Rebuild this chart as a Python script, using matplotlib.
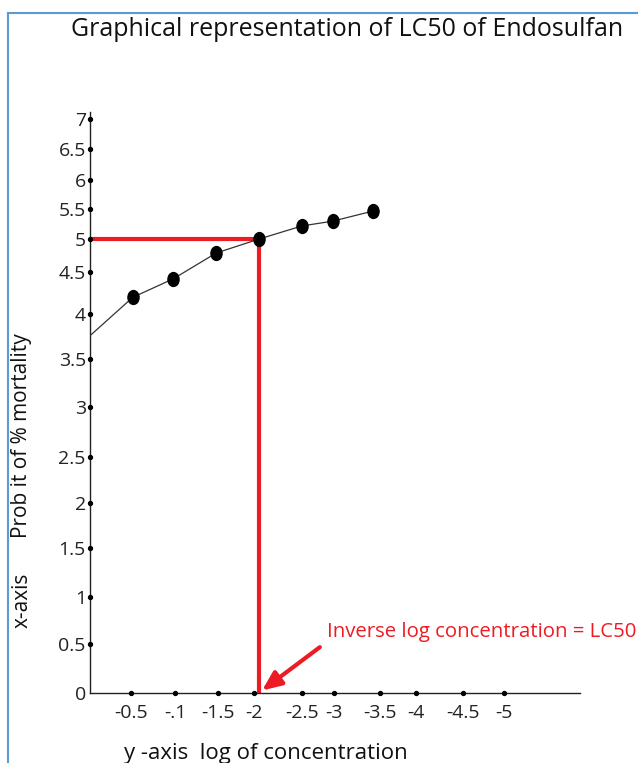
import numpy as np
import matplotlib
matplotlib.use('Agg')
import matplotlib.pyplot as plt
from matplotlib.path import Path
from matplotlib.transforms import Affine2D
from matplotlib.lines import Line2D

plt.rcParams['font.family'] = ['Open Sans', 'DejaVu Sans']

# values
log_conc = [-0.52, -0.98, -1.48, -2.05, -2.5, -2.98, -3.43]
probit = [4.2, 4.42, 4.79, 5.0, 5.22, 5.3, 5.47]
intercept = 3.76          # where the drawn line meets the y axis
lc50_x = -2.05
lc50_y = 5.0

y_ticks = [0, 0.5, 1, 1.5, 2, 2.5, 3, 3.5, 4, 4.5, 5, 5.5, 6, 6.5, 7]
y_labels = ['0', '0.5', '1', '1.5', '2', '2.5', '3', '3.5', '4', '4.5',
            '5', '5.5', '6', '6.5', '7']
x_ticks = [-0.5, -1, -1.5, -2, -2.5, -3, -3.5, -4, -4.5, -5]
x_labels = ['-0.5', '-.1', '-1.5', '-2', '-2.5', '-3', '-3.5', '-4', '-4.5', '-5']

# the axes in the original are hand drawn, ticks are not evenly spaced
y_break_vals = [0, 0.5, 1, 1.5, 2, 2.5, 3, 3.5, 4, 4.5, 5, 5.5, 6, 6.5, 7, 7.5]
y_break_pos = [0, 49, 96, 145, 190, 236, 286, 334, 379, 421, 454, 484, 513, 544, 574, 604]
x_break_vals = [0, 0.5, 1, 1.5, 2, 2.5, 3, 3.5, 4, 4.5, 5, 6]
x_break_pos = [0, 41, 85, 128, 164, 212, 244, 290, 326, 373, 414, 496]


def y_fwd(v):
    return np.interp(np.asarray(v, dtype=float), y_break_vals, y_break_pos)


def y_inv(p):
    return np.interp(np.asarray(p, dtype=float), y_break_pos, y_break_vals)


# increasing mapping for negative values, axis is then inverted with xlim
def x_fwd(v):
    return -np.interp(-np.asarray(v, dtype=float), x_break_vals, x_break_pos)


def x_inv(p):
    return -np.interp(-np.asarray(p, dtype=float), x_break_pos, x_break_vals)


RED = '#ed1c24'
W, H = 638, 763

fig = plt.figure(figsize=(W / 100, H / 100), dpi=100)
ax = fig.add_axes([90 / W, 70 / H, 490 / W, 581 / H])
ax.set_xscale('function', functions=(x_fwd, x_inv))
ax.set_yscale('function', functions=(y_fwd, y_inv))
ax.set_xlim(0, -5.93)
ax.set_ylim(0, 7.12)

for s in ['top', 'right']:
    ax.spines[s].set_visible(False)
for s in ['left', 'bottom']:
    ax.spines[s].set_linewidth(1.0)
    ax.spines[s].set_color('#222222')

ax.set_xticks(x_ticks)
ax.set_xticklabels(x_labels)
ax.set_yticks(y_ticks)
ax.set_yticklabels(y_labels)
ax.tick_params(axis='x', length=0, pad=8, labelsize=14, colors='#222222')
ax.tick_params(axis='y', length=0, pad=3, labelsize=14, colors='#222222')

# dot tick marks
ax.scatter(x_ticks, [0] * len(x_ticks), s=8, color='black', clip_on=False, zorder=5)
ax.scatter([0] * (len(y_ticks) - 1), y_ticks[1:], s=8, color='black', clip_on=False, zorder=5)

# LC50 guide lines
ax.plot([0, lc50_x], [lc50_y, lc50_y], color=RED, lw=3, solid_capstyle='butt', zorder=2)
ax.plot([lc50_x, lc50_x], [lc50_y, 0], color=RED, lw=3, solid_capstyle='butt', zorder=2)

# probit line and points
ellipse = Path.unit_circle().transformed(Affine2D().scale(0.8, 1.0))
ax.plot([0] + log_conc, [intercept] + probit, color='#333333', lw=0.9, zorder=3)
ax.plot(log_conc, probit, linestyle='none', marker=ellipse, markersize=10,
        color='black', zorder=4)

ax.annotate('', xy=(lc50_x, 0), xytext=(44, 33), textcoords='offset points',
            arrowprops=dict(arrowstyle='-|>,head_length=0.58,head_width=0.25',
                            lw=3, color=RED, shrinkA=0, shrinkB=3,
                            mutation_scale=20))

fig.text(347 / W, 1 - 30 / H, 'Graphical representation of LC50 of Endosulfan',
         ha='center', va='center', fontsize=18, color='#111111')
fig.text(22 / W, 1 - 436 / H, 'Prob it of % mortality', rotation=90,
         ha='center', va='center', fontsize=15, color='#111111')
fig.text(22 / W, 1 - 600 / H, 'x-axis', rotation=90,
         ha='center', va='center', fontsize=15, color='#111111')
fig.text(266 / W, 1 - 753 / H, 'y -axis  log of concentration',
         ha='center', va='center', fontsize=16, color='#111111')
fig.text(327 / W, 1 - 632 / H, 'Inverse log concentration = LC50',
         ha='left', va='center', fontsize=14.7, color=RED)

# blue frame along the top and left edge
fig.add_artist(Line2D([8 / W, 8 / W], [0, 1 - 13 / H], transform=fig.transFigure,
                      color='#5b9bd5', lw=1.5))
fig.add_artist(Line2D([8 / W, 1], [1 - 13 / H, 1 - 13 / H], transform=fig.transFigure,
                      color='#5b9bd5', lw=1.5))

fig.savefig('out.png', dpi=100)
